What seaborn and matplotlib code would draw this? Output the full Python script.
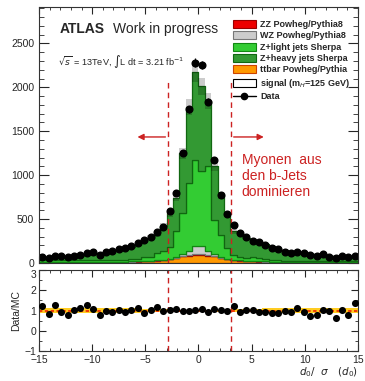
import numpy as np
import pandas as pd
import matplotlib
matplotlib.use("Agg")
import matplotlib.pyplot as plt
import seaborn as sns
from matplotlib.patches import Patch
from matplotlib.lines import Line2D
from matplotlib.ticker import MultipleLocator

# ---------------- data ----------------
bin_lo, bin_hi, n_bins = -15.0, 15.0, 50

data_counts = [65, 60, 80, 76, 72, 83, 91, 114, 125, 95, 125, 137, 156, 167, 194, 224, 258, 296, 349, 410, 589,
               801, 1249, 1751, 2281, 2258, 1837, 1173, 778, 555,
               433, 338, 300, 250, 235, 205, 171, 159, 129, 110, 125, 117, 87, 80, 99, 68, 61, 80, 72, 83]

ttbar = [5, 5, 6, 6, 7, 7, 8, 8, 9, 10, 10, 11, 12, 13, 15, 17, 20, 23, 28, 32, 40,
         60, 75, 85, 95, 95, 85, 75, 60, 45,
         32, 28, 23, 20, 17, 15, 13, 12, 11, 10, 10, 9, 8, 8, 7, 7, 6, 6, 5, 5]
zz = [1] * 20 + [2] + [2, 3, 4, 5, 5, 4, 3, 2, 2] + [1] * 20
wz = [2] * 19 + [3, 5] + [10, 20, 50, 90, 90, 50, 20, 10, 4] + [3] + [2] * 19
z_light = [22, 25, 25, 22, 20, 20, 18, 18, 20, 18, 18, 20, 18, 20, 25, 30, 40, 45, 80, 105, 140,
           295, 475, 770, 985, 852, 960, 393, 247, 118,
           58, 35, 30, 40, 35, 25, 20, 15, 12, 15, 10, 12, 10, 15, 12, 10, 12, 15, 10, 12]
z_heavy = [30, 31, 34, 41, 46, 50, 56, 63, 73, 81, 94, 106, 117, 134, 142, 160, 187, 219, 209, 279, 378,
           378, 677, 866, 1000, 968, 741, 614, 451, 386,
           268, 274, 234, 187, 177, 169, 154, 140, 119, 97, 95, 88, 84, 72, 70, 65, 61, 54, 57, 50]

ratio = [1.21, 0.82, 1.28, 0.95, 0.77, 1.05, 1.10, 1.25, 1.08, 0.80,
         0.97, 0.95, 1.05, 0.93, 1.03, 1.11, 0.88, 1.03, 1.16, 0.97,
         1.05, 1.08, 0.98, 0.97, 1.01, 1.08, 0.93, 1.06, 1.01, 1.00,
         1.20, 0.92, 1.05, 1.05, 0.95, 0.92, 0.88, 0.88, 0.98, 0.92,
         1.11, 0.95, 0.72, 0.78, 1.05, 1.00, 0.63, 1.05, 0.78, 1.36]

mc_rel_unc = [0.12] * 10 + [0.10] * 6 + [0.08] * 5 + [0.05] * 9 + [0.08] * 5 + [0.10] * 6 + [0.12] * 9

cut_lines = [-2.85, 3.05]

proc_labels = ["ZZ Powheg/Pythia8", "WZ Powheg/Pythia8", "Z+light jets Sherpa",
               "Z+heavy jets Sherpa", "ttbar Powheg/Pythia", "signal (m$_{H}$=125 GeV)"]

# ---------------- styling ----------------
sns.set_style("ticks")
plt.rcParams["font.family"] = ["Liberation Sans", "DejaVu Sans"]
plt.rcParams["mathtext.fontset"] = "dejavusans"

col = {
    "Z+heavy": "#339933",
    "Z+light": "#33cc33",
    "WZ": "#cccccc",
    "ZZ": "#ee0000",
    "ttbar": "#ff9900",
}
edge = {
    "Z+heavy": "#116611",
    "Z+light": "#118811",
    "WZ": "#777777",
    "ZZ": "#990000",
    "ttbar": "#cc4400",
}
red = "#cc2222"

bin_w = (bin_hi - bin_lo) / n_bins
edges = np.linspace(bin_lo, bin_hi, n_bins + 1)
centers = 0.5 * (edges[:-1] + edges[1:])

frames = []
for name, vals in [("Z+heavy", z_heavy), ("Z+light", z_light), ("WZ", wz), ("ZZ", zz), ("ttbar", ttbar)]:
    frames.append(pd.DataFrame({"x": centers, "w": np.asarray(vals, dtype=float), "proc": name}))
df = pd.concat(frames, ignore_index=True)
hue_order = ["Z+heavy", "Z+light", "WZ", "ZZ", "ttbar"]  # first on top

fig = plt.figure(figsize=(3.65, 3.81), dpi=100)
ax1 = fig.add_axes([0.1068, 0.3097, 0.874, 0.672])
ax2 = fig.add_axes([0.1068, 0.0787, 0.874, 0.2126])

sns.histplot(data=df, x="x", weights="w", hue="proc", hue_order=hue_order, palette=col,
             multiple="stack", binwidth=bin_w, binrange=(bin_lo, bin_hi), element="step",
             fill=True, alpha=1, linewidth=0.9, legend=False, ax=ax1)
rgb2name = {matplotlib.colors.to_hex(c): k for k, c in col.items()}
for coll in ax1.collections:
    fc = coll.get_facecolor()
    if len(fc):
        key = matplotlib.colors.to_hex(fc[0][:3])
        if key in rgb2name:
            coll.set_edgecolor(edge[rgb2name[key]])
            coll.set_linewidth(0.9)

mc_total = np.array(z_heavy) + np.array(z_light) + np.array(wz) + np.array(zz) + np.array(ttbar)
unc = np.array(mc_rel_unc)
lo = np.append(mc_total * (1 - unc), mc_total[-1] * (1 - unc[-1]))
hi = np.append(mc_total * (1 + unc), mc_total[-1] * (1 + unc[-1]))
ax1.fill_between(edges, lo, hi, step="post", color="black", alpha=0.2, lw=0)

d = np.array(data_counts, dtype=float)
ax1.errorbar(centers, d, yerr=np.sqrt(d), fmt="o", color="black", ms=4.8, lw=0.9, capsize=0)

ax1.set_xlim(bin_lo, bin_hi)
ax1.set_ylim(0, 2915)
ax1.set_xlabel("")
ax1.set_ylabel("")
ax1.yaxis.set_major_locator(MultipleLocator(500))
ax1.yaxis.set_minor_locator(MultipleLocator(100))
ax1.xaxis.set_major_locator(MultipleLocator(5))
ax1.xaxis.set_minor_locator(MultipleLocator(1))
ax1.tick_params(axis="both", which="both", direction="in", top=True, right=True, labelsize=7.5)
ax1.tick_params(axis="y", which="major", length=7)
ax1.tick_params(axis="y", which="minor", length=3.5)
ax1.tick_params(axis="x", which="major", length=5)
ax1.tick_params(axis="x", which="minor", length=2.5)
ax1.tick_params(axis="x", labelbottom=False)

for xc in cut_lines:
    ax1.plot([xc, xc], [0, 2095], color=red, ls=(0, (4, 3)), lw=1)
    ax2.axvline(xc, color=red, ls=(0, (4, 3)), lw=1)

ax1.annotate("", xy=(-6.0, 1435), xytext=(cut_lines[0], 1435),
             arrowprops=dict(arrowstyle="-|>", color=red, lw=1, mutation_scale=9))
ax1.annotate("", xy=(6.4, 1435), xytext=(cut_lines[1], 1435),
             arrowprops=dict(arrowstyle="-|>", color=red, lw=1, mutation_scale=9))

ax1.text(0.066, 0.914, "ATLAS", transform=ax1.transAxes, fontsize=10, fontweight="bold", va="center")
ax1.text(0.232, 0.914, "Work in progress", transform=ax1.transAxes, fontsize=10, va="center")
ax1.text(0.06, 0.785, r"$\sqrt{s}$ = 13TeV, $\int$L dt = 3.21 fb$^{-1}$", transform=ax1.transAxes,
         fontsize=6.6, va="center")
ax1.text(0.635, 0.431, "Myonen  aus\nden b-Jets\ndominieren", transform=ax1.transAxes, fontsize=10,
         color=red, va="top", linespacing=1.22)

handles = [
    Patch(facecolor=col["ZZ"], edgecolor=edge["ZZ"], lw=0.8),
    Patch(facecolor=col["WZ"], edgecolor=edge["WZ"], lw=0.8),
    Patch(facecolor=col["Z+light"], edgecolor=edge["Z+light"], lw=0.8),
    Patch(facecolor=col["Z+heavy"], edgecolor=edge["Z+heavy"], lw=0.8),
    Patch(facecolor=col["ttbar"], edgecolor=edge["ttbar"], lw=0.8),
    Patch(facecolor="white", edgecolor="black", lw=0.8),
    Line2D([], [], color="black", marker="o", ms=4.5, lw=1),
]
labels = proc_labels + ["Data"]
leg = ax1.legend(handles, labels, loc="upper left", bbox_to_anchor=(0.607, 0.95), frameon=False,
                 fontsize=6.5, handlelength=2.55, handleheight=1.0, labelspacing=0.25,
                 handletextpad=0.5, borderaxespad=0, borderpad=0)
for t in leg.get_texts():
    t.set_fontweight("bold")

# ratio panel
r = np.array(ratio)
lo_r = np.append(1 - unc, 1 - unc[-1])
hi_r = np.append(1 + unc, 1 + unc[-1])
ax2.fill_between(edges, lo_r, hi_r, step="post", color="#ffcc22", lw=0)
ax2.axhline(1.0, color="#ee2200", ls=(0, (2, 1.5)), lw=1.2)
sns.scatterplot(x=centers, y=r, color="black", s=26, edgecolor="black", linewidth=0, ax=ax2, zorder=5)
ax2.errorbar(centers, r, yerr=r / np.sqrt(d), fmt="none", ecolor="black", lw=0.8)
ax2.set_xlim(bin_lo, bin_hi)
ax2.set_ylim(-1, 3)
ax2.yaxis.set_major_locator(MultipleLocator(1))
ax2.yaxis.set_minor_locator(MultipleLocator(0.5))
ax2.xaxis.set_major_locator(MultipleLocator(5))
ax2.xaxis.set_minor_locator(MultipleLocator(1))
ax2.tick_params(axis="both", which="both", direction="in", top=True, right=True, labelsize=7.5, pad=2)
ax2.tick_params(axis="x", which="major", pad=3)
ax2.tick_params(axis="both", which="major", length=5)
ax2.tick_params(axis="both", which="minor", length=2.5)
ax2.set_ylabel("Data/MC", fontsize=7.5, labelpad=2)
ax2.set_xlabel("")

fig.canvas.draw()
for lab in ax2.get_yticklabels():
    if lab.get_text() in ("3",):
        lab.set_verticalalignment("top")

fig.text(0.98, 0.004, r"$d_0/\ \ \sigma\ \ \ (d_0)$", ha="right", va="bottom", fontsize=7.5)

for ax in (ax1, ax2):
    for s in ax.spines.values():
        s.set_linewidth(0.8)
        s.set_color("#333333")

fig.savefig("out.png", dpi=100)
